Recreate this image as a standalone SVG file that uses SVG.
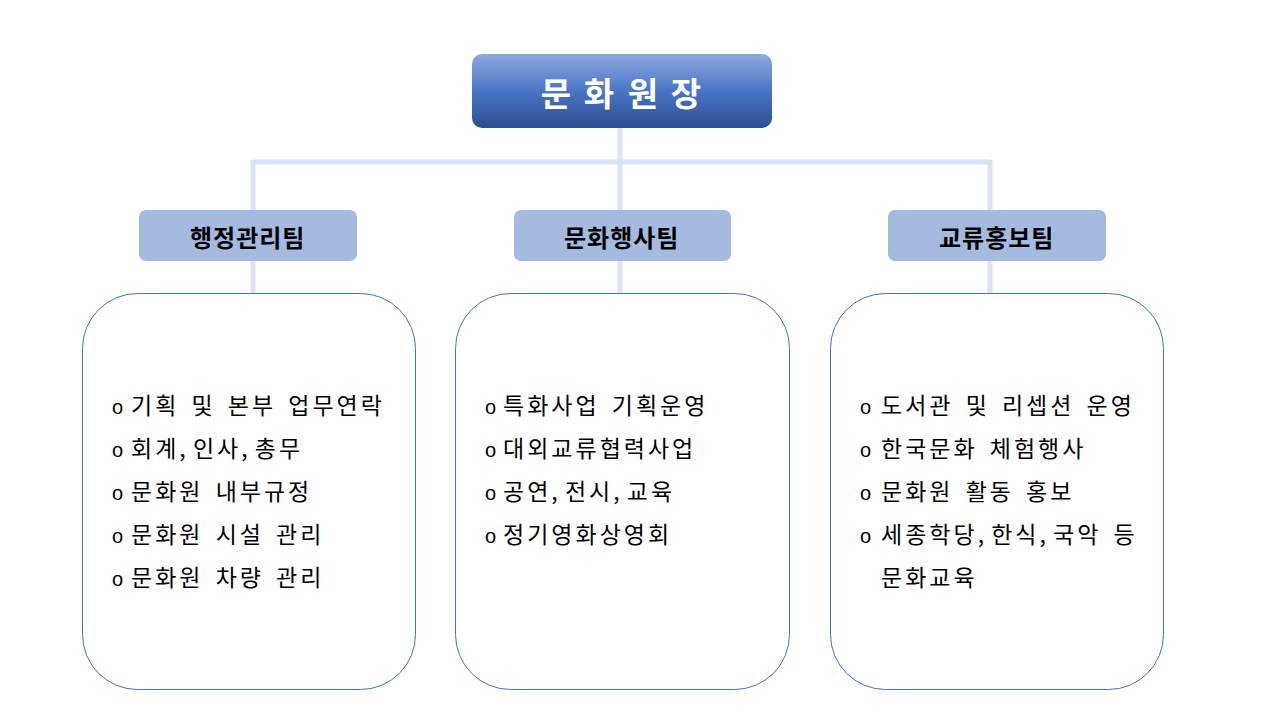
<svg xmlns="http://www.w3.org/2000/svg" width="1280" height="720" viewBox="0 0 1280 720">
<defs>
<linearGradient id="topGrad" x1="0" y1="0" x2="0" y2="1">
<stop offset="0" stop-color="#8eaadf"/>
<stop offset="0.5" stop-color="#4a74c6"/>
<stop offset="1" stop-color="#2c4f8f"/>
</linearGradient>
<style>
.conn{stroke:#dae3f3;stroke-width:5;fill:none}
.team{fill:#a4badf}
.teamtxt{font-family:"Noto Sans CJK KR","Malgun Gothic",sans-serif;font-weight:bold;font-size:24px;fill:#000;letter-spacing:1px}
.box{fill:#fff;stroke:#4472c4;stroke-width:1}
.item{font-family:"Noto Sans CJK KR",sans-serif;font-size:23px;fill:#000;letter-spacing:3px;word-spacing:4px}
.cm{letter-spacing:-5px}
.bul{font-family:"Liberation Sans",sans-serif;font-size:20px;fill:#000}
.ttl{font-family:"Noto Sans CJK KR",sans-serif;font-weight:bold;font-size:33px;fill:#fff;text-anchor:middle}
</style>
</defs>
<rect width="1280" height="720" fill="#fff"/>
<g id="connectors">
<line class="conn" x1="620" y1="128" x2="620" y2="295"/>
<line class="conn" x1="253" y1="162" x2="990" y2="162"/>
<line class="conn" x1="253" y1="160" x2="253" y2="295"/>
<line class="conn" x1="990" y1="160" x2="990" y2="295"/>
</g>
<g id="director">
<rect x="472" y="54" width="300" height="74" rx="10" fill="url(#topGrad)"/>
<text class="ttl" x="556" y="106">문</text>
<text class="ttl" x="599" y="106">화</text>
<text class="ttl" x="643" y="106">원</text>
<text class="ttl" x="686" y="106">장</text>
</g>
<g id="team1">
<rect class="team" x="139" y="210" width="218" height="51" rx="7"/>
<text class="teamtxt" x="190" y="247">행정관리팀</text>
</g>
<g id="team2">
<rect class="team" x="514" y="210" width="217" height="51" rx="7"/>
<text class="teamtxt" x="564" y="247">문화행사팀</text>
</g>
<g id="team3">
<rect class="team" x="888" y="210" width="218" height="51" rx="7"/>
<text class="teamtxt" x="939" y="247">교류홍보팀</text>
</g>
<g id="box1">
<rect class="box" x="82.5" y="293.5" width="333" height="396" rx="55"/>
<g class="bul"><text x="112" y="414">o</text><text x="112" y="457">o</text><text x="112" y="500">o</text><text x="112" y="543">o</text><text x="112" y="586">o</text></g>
<g class="item">
<text x="131" y="414">기획 및 본부 업무연락</text>
<text x="131" y="457">회계<tspan class="cm">,</tspan> 인사<tspan class="cm">,</tspan> 총무</text>
<text x="131" y="500">문화원 내부규정</text>
<text x="131" y="543">문화원 시설 관리</text>
<text x="131" y="586">문화원 차량 관리</text>
</g>
</g>
<g id="box2">
<rect class="box" x="455.5" y="293.5" width="334" height="396" rx="55"/>
<g class="bul"><text x="485" y="414">o</text><text x="485" y="457">o</text><text x="485" y="500">o</text><text x="485" y="543">o</text></g>
<g class="item">
<text x="503" y="414">특화사업 기획운영</text>
<text x="503" y="457">대외교류협력사업</text>
<text x="503" y="500">공연<tspan class="cm">,</tspan> 전시<tspan class="cm">,</tspan> 교육</text>
<text x="503" y="543">정기영화상영회</text>
</g>
</g>
<g id="box3">
<rect class="box" x="830.5" y="293.5" width="333" height="396" rx="55"/>
<g class="bul"><text x="860" y="414">o</text><text x="860" y="457">o</text><text x="860" y="500">o</text><text x="860" y="543">o</text></g>
<g class="item">
<text x="881" y="414">도서관 및 리셉션 운영</text>
<text x="881" y="457">한국문화 체험행사</text>
<text x="881" y="500">문화원 활동 홍보</text>
<text x="881" y="543">세종학당<tspan class="cm">,</tspan> 한식<tspan class="cm">,</tspan> 국악 등</text>
<text x="881" y="586">문화교육</text>
</g>
</g>
</svg>
